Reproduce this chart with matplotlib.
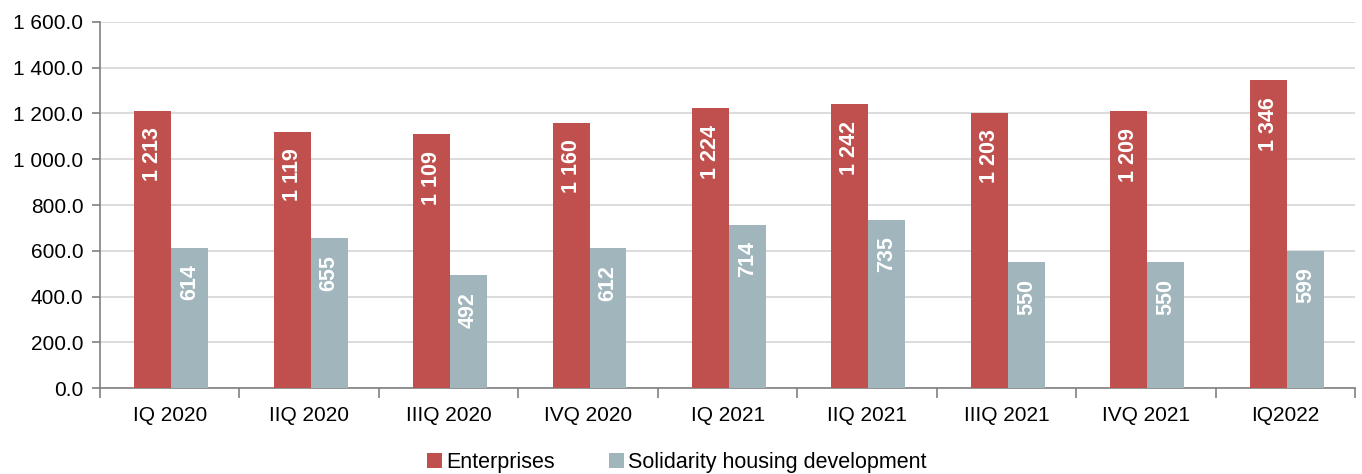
import matplotlib.pyplot as plt
import numpy as np
from matplotlib.ticker import FuncFormatter, FixedLocator

plt.rcParams["font.family"] = ["Liberation Sans", "DejaVu Sans"]

quarters = ["IQ 2020", "IIQ 2020", "IIIQ 2020", "IVQ 2020", "IQ 2021",
            "IIQ 2021", "IIIQ 2021", "IVQ 2021", "IQ2022"]
enterprises = [1213, 1119, 1109, 1160, 1224, 1242, 1203, 1209, 1346]
housing = [614, 655, 492, 612, 714, 735, 550, 550, 599]

RED = "#C0504D"
GRAY = "#A1B5BC"


def fmt_thousands(v, _pos=None):
    s = f"{v:,.1f}"
    return s.replace(",", " ")


fig = plt.figure(figsize=(13.62, 4.74), dpi=100, facecolor="white")
ax = fig.add_axes([0.0734, 0.1814, 0.9216, 0.7722])

x = np.arange(len(quarters))
w = 0.265
b1 = ax.bar(x - w / 2 + 0.01, enterprises, w, color=RED, label="Enterprises", zorder=3)
b2 = ax.bar(x + w / 2 + 0.01, housing, w, color=GRAY, label="Solidarity housing development", zorder=3)

for bars in (b1, b2):
    for rect in bars:
        val = rect.get_height()
        ax.annotate(fmt_thousands(val).replace(".0", ""),
                    (rect.get_x() + rect.get_width() / 2, val),
                    xytext=(0, -12), textcoords="offset points",
                    rotation=90, ha="center", va="top",
                    color="white", fontsize=15.5, fontweight="bold", zorder=4)

ax.set_xlim(-0.5, len(quarters) - 0.5)
ax.set_ylim(0, 1600)
ax.set_yticks(np.arange(0, 1601, 200))
ax.yaxis.set_major_formatter(FuncFormatter(fmt_thousands))
ax.set_xticks(x)
ax.set_xticklabels(quarters)
ax.xaxis.set_minor_locator(FixedLocator(np.arange(-0.5, len(quarters), 1)))
ax.tick_params(axis="x", which="major", length=0, pad=13, labelsize=15)
ax.tick_params(axis="x", which="minor", length=7, color="#808080", width=1.2)
ax.tick_params(axis="y", length=6, color="#808080", width=1.2, labelsize=15, pad=6)

ax.grid(axis="y", color="#D9D9D9", linewidth=1.3, zorder=0)
for side in ("top", "right"):
    ax.spines[side].set_visible(False)
for side in ("left", "bottom"):
    ax.spines[side].set_color("#808080")
    ax.spines[side].set_linewidth(1.2)

fig.legend(loc="lower center", bbox_to_anchor=(0.497, -0.038), ncol=2, frameon=False,
           fontsize=15.5, handlelength=0.7, handleheight=0.7, handletextpad=0.2,
           columnspacing=2.5)

fig.savefig("out.png", dpi=100, facecolor="white")
